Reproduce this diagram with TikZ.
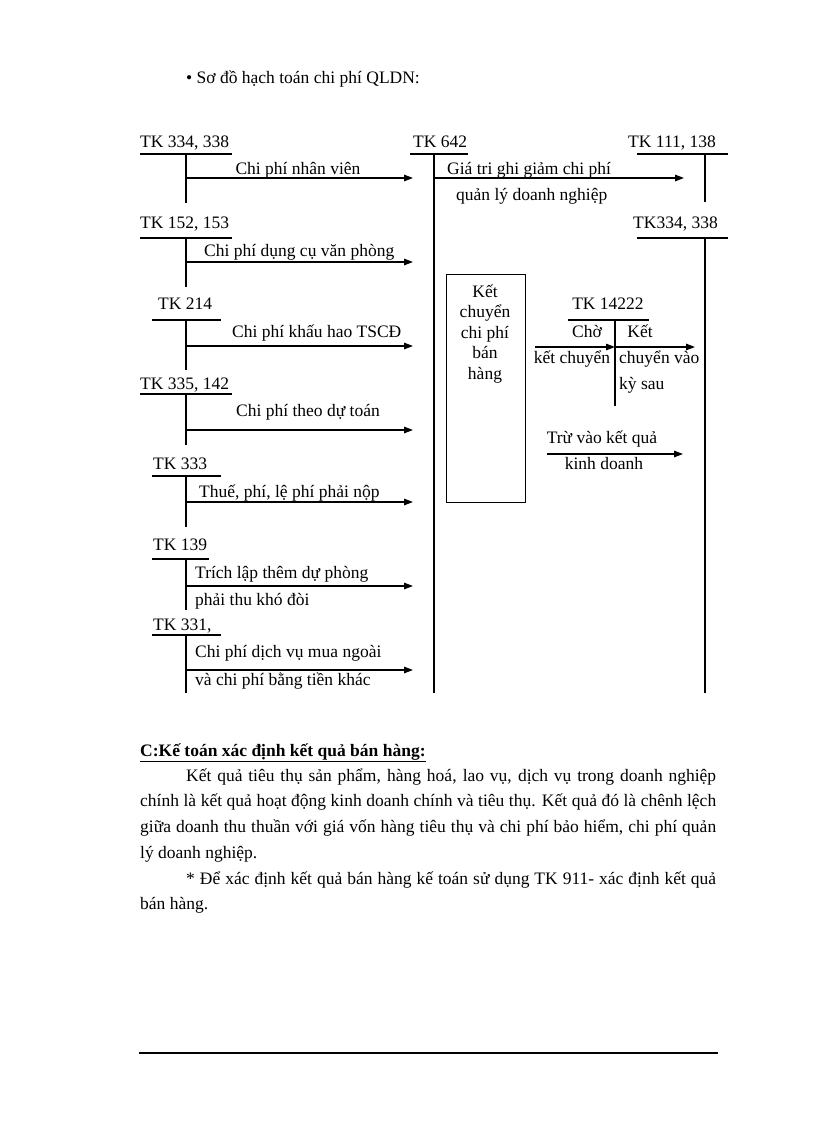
\documentclass[tikz,border=0pt]{standalone}
\usepackage{fontspec}
\setmainfont{Liberation Serif}
\usetikzlibrary{arrows.meta}
\newcommand\dgf{\fontsize{17.5pt}{20.5pt}\selectfont}
\begin{document}
\begin{tikzpicture}[x=1pt,y=-1pt,
  every node/.style={font=\dgf, inner sep=0pt, anchor=base west},
  clbl/.style={anchor=base},
  tline/.style={line width=1.7pt},
  vline/.style={line width=1.2pt},
  arr/.style={line width=1.3pt, -{Triangle[length=9pt,width=6.5pt]}},
  boxst/.style={draw, line width=1.2pt, minimum width=79pt, minimum height=228pt, anchor=north west},
]
\useasboundingbox (0,0) rectangle (816,1123);

% title
\node (title) at (186,84) {• Sơ đồ hạch toán chi phí QLDN:};

% ---- left T accounts ----
\node (tk334) at (140,148) {TK 334, 338};
\draw[tline] (140,154) -- (232,154);
\draw[vline] (186,154) -- (186,203);

\node (tk152) at (140,229) {TK 152, 153};
\draw[tline] (140,238) -- (232,238);
\draw[vline] (186,238) -- (186,287);

\node (tk214) at (158,309) {TK 214};
\draw[tline] (152,320) -- (221,320);
\draw[vline] (186,320) -- (186,370);

\node (tk335) at (140,389) {TK 335, 142};
\draw[tline] (140,394) -- (232,394);
\draw[vline] (186,394) -- (186,445);

\node (tk333) at (153,469) {TK 333};
\draw[tline] (152,476) -- (221,476);
\draw[vline] (186,476) -- (186,527);

\node (tk139) at (153,550) {TK 139};
\draw[tline] (152,559) -- (209,559);
\draw[vline] (186,559) -- (186,610);

\node (tk331) at (153,630) {TK 331,};
\draw[tline] (152,635) -- (221,635);
\draw[vline] (186,635) -- (186,693);

% ---- TK 642 ----
\node (tk642) at (413,148) {TK 642};
\draw[tline] (410,154) -- (468,154);
\draw[vline] (434,154) -- (434,693);

% ---- right T accounts ----
\node (tk111) at (628,148) {TK 111, 138};
\draw[tline] (637,154) -- (728,154);
\draw[vline] (705,154) -- (705,202);

\node (tk334b) at (633,229) {TK334, 338};
\draw[tline] (637,238) -- (728,238);
\draw[vline] (705,238) -- (705,693);

% ---- arrow coordinates ----
\coordinate (a1s) at (186,178); \coordinate (a1e) at (413,178);
\coordinate (a2s) at (186,262); \coordinate (a2e) at (413,262);
\coordinate (a3s) at (186,346); \coordinate (a3e) at (413,346);
\coordinate (a4s) at (186,430); \coordinate (a4e) at (413,430);
\coordinate (a5s) at (186,502); \coordinate (a5e) at (413,502);
\coordinate (a6s) at (186,586); \coordinate (a6e) at (413,586);
\coordinate (a7s) at (186,670); \coordinate (a7e) at (413,670);
\coordinate (r1s) at (434,178); \coordinate (r1e) at (684,178);
\coordinate (k1s) at (535,347); \coordinate (k1e) at (615,347);
\coordinate (k2e) at (695,347);
\coordinate (t1s) at (547,454); \coordinate (t1e) at (683,454);

\draw[arr] (a1s) -- (a1e);
\draw[arr] (a2s) -- (a2e);
\draw[arr] (a3s) -- (a3e);
\draw[arr] (a4s) -- (a4e);
\draw[arr] (a5s) -- (a5e);
\draw[arr] (a6s) -- (a6e);
\draw[arr] (a7s) -- (a7e);
\draw[arr] (r1s) -- (r1e);
\draw[arr] (k1s) -- (k1e);
\draw[arr] (k1e) -- (k2e);
\draw[arr] (t1s) -- (t1e);

% ---- arrow labels ----
\node[clbl] (l1) at (298,175) {Chi phí nhân viên};
\node (l2) at (204,256) {Chi phí dụng cụ văn phòng};
\node (l3) at (232,337) {Chi phí khấu hao TSCĐ};
\node (l4) at (236,416) {Chi phí theo dự toán};
\node (l5) at (199,497) {Thuế, phí, lệ phí phải nộp};
\node (l6a) at (195,578) {Trích lập thêm dự phòng};
\node (l6b) at (195,605) {phải thu khó đòi};
\node (l7a) at (195,657) {Chi phí dịch vụ mua ngoài};
\node (l7b) at (195,685) {và chi phí bằng tiền khác};
\node (r1a) at (447,175) {Giá tri ghi giảm chi phí};
\node (r1b) at (456,201) {quản lý doanh nghiệp};

% ---- box ----
\node[boxst] (box) at (446,274) {};
\node[clbl] (bx1) at (485,297) {Kết};
\node[clbl] (bx2) at (485,317) {chuyển};
\node[clbl] (bx3) at (485,338) {chi phí};
\node[clbl] (bx4) at (485,358) {bán};
\node[clbl] (bx5) at (485,379) {hàng};

% ---- TK 14222 ----
\node[clbl] (tk142) at (608,309) {TK 14222};
\draw[tline] (568,320) -- (649,320);
\draw[vline] (615,320) -- (615,406);
\node[clbl] (cho) at (587,337) {Chờ};
\node[clbl] (ket) at (640,337) {Kết};
\node[clbl] (kc) at (572,363) {kết chuyển};
\node (cv) at (619,363) {chuyển vào};
\node (ks) at (619,389) {kỳ sau};
\node[clbl] (tru) at (602,443) {Trừ vào kết quả};
\node[clbl] (kd) at (604,469) {kinh doanh};

% ---- text section ----
\node (head) at (140,756) {\bfseries\underline{C:Kế toán xác định kết quả bán hàng:}};
\node (p1) at (186,781) {\makebox[530pt][s]{Kết quả tiêu thụ sản phẩm, hàng hoá, lao vụ, dịch vụ trong doanh nghiệp}};
\node (p2) at (140,806) {\makebox[576pt][s]{chính là kết quả hoạt động kinh doanh chính và tiêu thụ. Kết quả đó là chênh lệch}};
\node (p3) at (140,832) {\makebox[576pt][s]{giữa doanh thu thuần với giá vốn hàng tiêu thụ và chi phí bảo hiểm, chi phí quản}};
\node (p4) at (140,858) {lý doanh nghiệp.};
\node (p5) at (186,884) {\makebox[530pt][s]{* Để xác định kết quả bán hàng kế toán sử dụng TK 911- xác định kết quả}};
\node (p6) at (140,909) {bán hàng.};

% footer rule
\draw[line width=1.5pt] (139,1053) -- (718,1053);
\end{tikzpicture}
\end{document}
